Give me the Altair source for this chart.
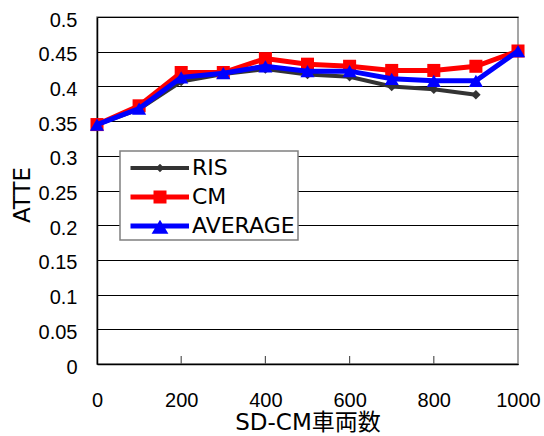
import altair as alt
import pandas as pd

# Number of SD-CM vehicles on the x axis
vehicles = [0, 100, 200, 300, 400, 500, 600, 700, 800, 900, 1000]

# ATTE for each method (RIS has no run at 1000 vehicles)
ris = [0.345, 0.367, 0.407, 0.418, 0.425, 0.417, 0.414, 0.400, 0.396, 0.388]
cm = [0.345, 0.372, 0.420, 0.420, 0.440, 0.432, 0.429, 0.423, 0.423, 0.429, 0.451]
average = [0.345, 0.368, 0.413, 0.419, 0.429, 0.422, 0.422, 0.411, 0.408, 0.408, 0.451]

series_names = ["RIS", "CM", "AVERAGE"]
series_colors = ["#333333", "#FF0000", "#0000FF"]
series_shapes = ["diamond", "square", "triangle-up"]
series_widths = [4, 5, 5]
marker_sizes = [90, 170, 200]

y_ticks = [0, 0.05, 0.1, 0.15, 0.2, 0.25, 0.3, 0.35, 0.4, 0.45, 0.5]
x_ticks = [0, 200, 400, 600, 800, 1000]
inner_ticks = [200, 400, 600, 800]

rows = []
for name, vals in zip(series_names, [ris, cm, average]):
    for v, a in zip(vehicles, vals):
        rows.append({"vehicles": v, "ATTE": a, "series": name})
df = pd.DataFrame(rows)

W, H = 421, 347
NUM_FONT = "Liberation Sans, sans-serif"
TEXT_FONT = "DejaVu Sans, Noto Sans CJK JP, sans-serif"

x_enc = alt.X(
    "vehicles:Q",
    scale=alt.Scale(domain=[0, 1000], nice=False),
    axis=alt.Axis(
        values=x_ticks, format="d", grid=False, ticks=False, tickSize=0,
        labelPadding=36, labelBaseline="middle", labelFontSize=20,
        labelColor="black", labelFont=NUM_FONT, labelFlush=False,
        domainColor="black", domainWidth=1.5,
        title="SD-CM車両数", titleFont=TEXT_FONT, titleFontSize=23,
        titleFontWeight="normal", titleColor="black",
        titleX=W / 2, titleY=58, titleBaseline="middle", titleAlign="center",
    ),
)
y_enc = alt.Y(
    "ATTE:Q",
    scale=alt.Scale(domain=[0, 0.5], nice=False),
    axis=alt.Axis(
        values=y_ticks, format="~g", grid=True, gridColor="black",
        gridWidth=1, ticks=False, tickSize=0, labelPadding=20,
        labelOffset=3, labelFontSize=20, labelColor="black", labelFont=NUM_FONT,
        labelFlush=False, domainColor="black", domainWidth=1.5,
        title="ATTE", titleFont=TEXT_FONT, titleFontSize=23,
        titleFontWeight="normal", titleColor="black", titleAngle=270,
        titleX=-75, titleY=H / 2 + 4, titleBaseline="middle", titleAlign="center",
    ),
)

layers = []

# small inward tick marks on the x axis
tick_df = pd.DataFrame({"vehicles": inner_ticks})
layers.append(
    alt.Chart(tick_df).mark_rule(color="#555555", strokeWidth=1.2).encode(
        x=alt.X("vehicles:Q", scale=alt.Scale(domain=[0, 1000], nice=False)),
        y=alt.value(H - 8), y2=alt.value(H),
    )
)

for name, color, shape, w, sz in zip(series_names, series_colors, series_shapes,
                                     series_widths, marker_sizes):
    base = alt.Chart(df).transform_filter(alt.datum.series == name)
    layers.append(base.mark_line(color=color, strokeWidth=w).encode(x=x_enc, y=y_enc))
    layers.append(
        base.mark_point(shape=shape, filled=True, color=color, size=sz,
                        opacity=1, strokeWidth=0).encode(x=x_enc, y=y_enc)
    )


# legend symbols: a line segment with the marker on it, in symbol units
def fmt(v):
    return f"{v:.3f}"


def bar(half):
    return (f"M{fmt(-0.464)},{fmt(-half)}H{fmt(3.714)}V{fmt(half)}"
            f"H{fmt(-0.464)}Z")


cx = 1.643
legend_paths = [
    bar(0.143) + f"M{fmt(cx)},{fmt(-0.3)}L{fmt(cx + 0.3)},0L{fmt(cx)},{fmt(0.3)}L{fmt(cx - 0.3)},0Z",
    bar(0.179) + f"M{fmt(cx - 0.464)},{fmt(-0.464)}H{fmt(cx + 0.464)}V{fmt(0.464)}H{fmt(cx - 0.464)}Z",
    bar(0.179) + f"M{fmt(cx)},{fmt(-0.45)}L{fmt(cx + 0.6)},{fmt(0.55)}L{fmt(cx - 0.6)},{fmt(0.55)}Z",
]

legend = alt.Legend(
    title=None, orient="none", legendX=23, legendY=134,
    fillColor="white", strokeColor="#808080", padding=3,
    symbolSize=784, symbolStrokeWidth=0, symbolOpacity=1, labelOffset=41,
    labelFontSize=22, labelFont=TEXT_FONT, labelColor="black", rowPadding=4,
)

layers.append(
    alt.Chart(df).transform_filter("false").mark_point(filled=True, opacity=1, strokeWidth=0).encode(
        color=alt.Color("series:N", scale=alt.Scale(domain=series_names, range=series_colors),
                        legend=legend),
        shape=alt.Shape("series:N", scale=alt.Scale(domain=series_names, range=legend_paths),
                        legend=legend),
    )
)

chart = alt.layer(*layers).properties(
    width=W, height=H,
    autosize=alt.AutoSizeParams(type="none"),
    padding={"left": 97, "top": 17, "right": 26, "bottom": 72},
    background="white",
).configure_view(stroke="#888888", strokeWidth=1.5).configure_legend(strokeWidth=1.5)

chart.save("out.html", embed_options={"renderer": "svg", "actions": False})
